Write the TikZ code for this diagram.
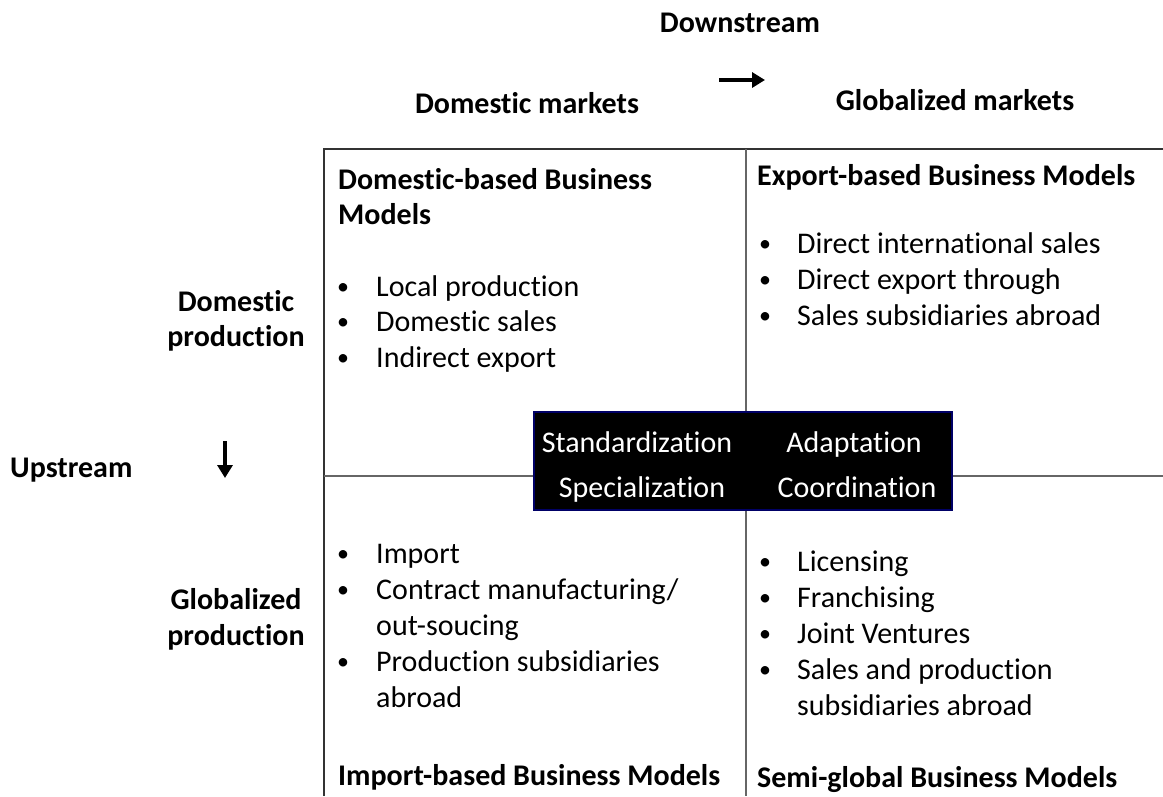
\documentclass[tikz,border=0pt]{standalone}
\usepackage{fontspec}
\setmainfont[Ligatures=NoCommon]{Carlito}
\usetikzlibrary{arrows.meta}
\tikzset{
  txt/.style={inner sep=0pt, font=\fontsize{30}{36}\selectfont, anchor=base west},
  hd/.style={inner sep=0pt, font=\fontsize{30}{36}\selectfont\bfseries, anchor=base west},
  hdc/.style={hd, anchor=base},
  wtxt/.style={inner sep=0pt, font=\fontsize{30}{36}\selectfont, anchor=base, text=white},
  bul/.style={inner sep=0pt, font=\fontsize{24}{30}\selectfont, anchor=base},
  outer/.style={draw=black!80, line width=1.8pt},
  inner/.style={draw=black!60, line width=1.2pt},
  bigarrow/.style={line width=4.2pt, -{Triangle[length=13pt,width=15pt]}},
  centerbox/.style={fill=black, draw=blue!40!black, line width=1.5pt}
}
\begin{document}
\begin{tikzpicture}[x=1pt,y=-1pt]
\useasboundingbox (0,0) rectangle (1163,796);
% grid coordinates
\coordinate (TL) at (324,149);
\coordinate (TR) at (1163,149);
\coordinate (BL) at (324,796);
\coordinate (TM) at (746,149);
\coordinate (BM) at (746,796);
\coordinate (ML) at (324,476);
\coordinate (MR) at (1163,476);
\draw[outer] (BL) -- (TL) -- (TR);
\draw[inner] (TM) -- (BM);
\draw[inner] (ML) -- (MR);
% center box
\draw[centerbox] (534,412) rectangle (952,510);
\node[wtxt] (std) at (637,452) {Standardization};
\node[wtxt] (spc) at (642,497) {Specialization};
\node[wtxt] (adp) at (854,452) {Adaptation};
\node[wtxt] (crd) at (857,497) {Coordination};
% top labels
\node[hdc] (down) at (740,32) {Downstream};
\coordinate (ra1) at (719,80);
\coordinate (ra2) at (765,80);
\draw[bigarrow] (ra1) -- (ra2);
\node[hdc] (dm) at (527,113) {Domestic markets};
\node[hdc] (gm) at (955,110) {Globalized markets};
% left labels
\node[hdc] (dp1) at (236,311) {Domestic};
\node[hdc] (dp2) at (236,346) {production};
\node[hdc] (gp1) at (236,609) {Globalized};
\node[hdc] (gp2) at (236,645) {production};
\node[hd] (up) at (10,477) {Upstream};
\coordinate (da1) at (225,441);
\coordinate (da2) at (225,478);
\draw[bigarrow] (da1) -- (da2);
% top-left quadrant
\node[hd] (h1a) at (338,189) {Domestic-based Business};
\node[hd] (h1b) at (338,224) {Models};
\node[bul] (b11) at (343,294) {•};
\node[txt] (t11) at (376,296) {Local production};
\node[bul] (b12) at (343,329) {•};
\node[txt] (t12) at (376,331) {Domestic sales};
\node[bul] (b13) at (343,365) {•};
\node[txt] (t13) at (376,367) {Indirect export};
% top-right quadrant
\node[hd] (h2) at (757,185) {Export-based Business Models};
\node[bul] (b21) at (765,251) {•};
\node[txt] (t21) at (797,253) {Direct international sales};
\node[bul] (b22) at (765,287) {•};
\node[txt] (t22) at (797,289) {Direct export through};
\node[bul] (b23) at (765,323) {•};
\node[txt] (t23) at (797,325) {Sales subsidiaries abroad};
% bottom-left quadrant
\node[bul] (b31) at (343,561) {•};
\node[txt] (t31) at (376,563) {Import};
\node[bul] (b32) at (343,597) {•};
\node[txt] (t32) at (376,599) {Contract manufacturing/};
\node[txt] (t32b) at (376,635) {out-soucing};
\node[bul] (b33) at (343,669) {•};
\node[txt] (t33) at (376,671) {Production subsidiaries};
\node[txt] (t33b) at (376,707) {abroad};
\node[hd] (h3) at (338,785) {Import-based Business Models};
% bottom-right quadrant
\node[bul] (b41) at (765,569) {•};
\node[txt] (t41) at (797,571) {Licensing};
\node[bul] (b42) at (765,605) {•};
\node[txt] (t42) at (797,607) {Franchising};
\node[bul] (b43) at (765,641) {•};
\node[txt] (t43) at (797,643) {Joint Ventures};
\node[bul] (b44) at (765,677) {•};
\node[txt] (t44) at (797,679) {Sales and production};
\node[txt] (t44b) at (797,715) {subsidiaries abroad};
\node[hd] (h4) at (757,787) {Semi-global Business Models};
\end{tikzpicture}
\end{document}
